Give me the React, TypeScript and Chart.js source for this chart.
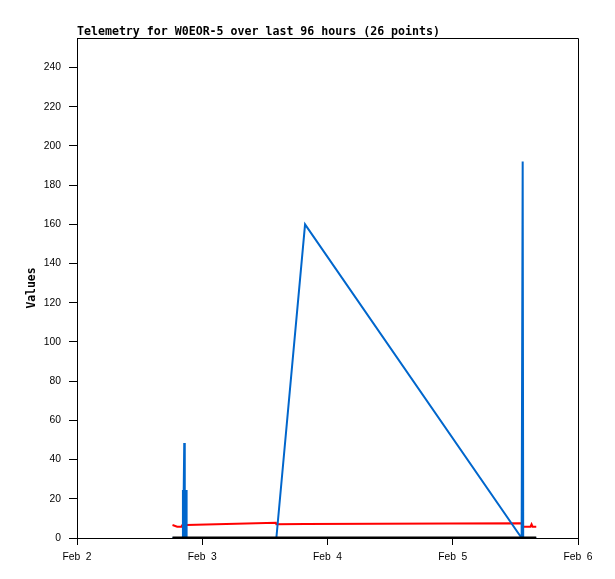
import React, { useEffect, useRef } from 'react';
import { Chart, registerables } from 'chart.js';

Chart.register(...registerables);

const TITLE = 'Telemetry for W0EOR-5 over last 96 hours (26 points)';
const Y_TITLE = 'Values';

// x tick labels (hours since Feb 2 00:00, every 24 h)
const xTickHours = [0, 24, 48, 72, 96];
const xTickLabels = ['Feb  2', 'Feb  3', 'Feb  4', 'Feb  5', 'Feb  6'];

// sample times, hours since Feb 2 00:00
const hours = [18.3, 19.2, 20.0, 20.2, 20.3, 20.35, 20.45, 20.55, 20.65, 20.75, 20.85, 20.95, 21.0, 38.1, 38.2, 43.7, 85.2, 85.4, 85.5, 86.9, 87.1, 87.3, 88.0];
const blueValues = [0, 0, 0, 0, 24.5, 0, 24.5, 48.5, 0, 24.5, 0, 24.5, 0, 0, 0, 160, 0, 192, 0, 0, 0, 0, 0];
const redValues = [6.6, 5.8, 5.8, 6.6, 6.6, 6.6, 6.6, 6.6, 6.6, 6.6, 6.6, 6.6, 6.6, 7.8, 7.0, 7.1, 7.5, 5.8, 5.8, 5.8, 7.0, 5.8, 5.8];
const blackValues = [0, 0, 0, 0, 0, 0, 0, 0, 0, 0, 0, 0, 0, 0, 0, 0, 0, 0, 0, 0, 0, 0, 0];

const toPoints = (vals: number[]) => hours.map((h, i) => ({ x: h, y: vals[i] }));

const framePlugin = {
  id: 'frame',
  afterDraw(chart: any) {
    const { ctx, chartArea } = chart;
    const { left, top, right, bottom } = chartArea;
    ctx.save();
    ctx.strokeStyle = '#000';
    ctx.lineWidth = 1;
    ctx.beginPath();
    ctx.moveTo(Math.round(left), Math.round(top) + 0.5);
    ctx.lineTo(Math.round(right) + 0.5, Math.round(top) + 0.5);
    ctx.lineTo(Math.round(right) + 0.5, Math.round(bottom));
    ctx.stroke();
    ctx.restore();
  },
};

export default function App() {
  const ref = useRef<HTMLCanvasElement | null>(null);

  useEffect(() => {
    document.body.style.margin = '0';
    const canvas = ref.current;
    if (!canvas) return;
    const tickFont = { family: '"Liberation Sans", Arial, sans-serif', size: 10.3 };
    const monoBold = { family: '"DejaVu Sans Mono", monospace', size: 11.6, weight: 'bold' as const };
    const chart = new Chart(canvas, {
      type: 'line',
      data: {
        datasets: [
          {
            label: 'black',
            data: toPoints(blackValues),
            borderColor: '#000000',
            borderWidth: 3,
            pointRadius: 0,
            order: 0,
          },
          {
            label: 'blue',
            data: toPoints(blueValues),
            borderColor: '#0066cc',
            borderWidth: 2,
            pointRadius: 0,
            order: 1,
          },
          {
            label: 'red',
            data: toPoints(redValues),
            borderColor: '#ff0000',
            borderWidth: 2,
            pointRadius: 0,
            order: 2,
          },
        ],
      },
      options: {
        animation: false,
        responsive: false,
        layout: { padding: { top: 25.5, right: 37, left: 0, bottom: 0 } },
        plugins: {
          legend: { display: false },
          tooltip: { enabled: false },
          title: {
            display: true,
            text: TITLE,
            align: 'start',
            fullSize: false,
            color: '#000',
            font: { ...monoBold, lineHeight: 1.0 },
            padding: { top: 1, bottom: 0 },
          },
        },
        scales: {
          x: {
            type: 'linear',
            min: 0,
            max: 96,
            afterBuildTicks: (scale: any) => {
              scale.ticks = xTickHours.map((v) => ({ value: v }));
            },
            afterFit: (scale: any) => {
              scale.height = 41;
            },
            ticks: {
              color: '#000',
              font: tickFont,
              padding: 6,
              maxRotation: 0,
              autoSkip: false,
              callback: (v: any) => {
                const i = xTickHours.indexOf(Number(v));
                return i >= 0 ? xTickLabels[i] : '';
              },
            },
            grid: { drawOnChartArea: false, drawTicks: true, tickLength: 7, color: '#000' },
            border: { display: true, color: '#000', width: 1 },
          },
          y: {
            type: 'linear',
            min: 0,
            max: 255,
            afterFit: (scale: any) => {
              scale.width = 77;
            },
            ticks: {
              stepSize: 20,
              includeBounds: false,
              color: '#000',
              font: tickFont,
              padding: 8,
            },
            grid: { drawOnChartArea: false, drawTicks: true, tickLength: 8, color: '#000' },
            border: { display: true, color: '#000', width: 1 },
            title: {
              display: true,
              text: Y_TITLE,
              color: '#000',
              font: { ...monoBold, size: 11.4 },
              padding: { top: 25, bottom: 0 },
            },
          },
        },
      },
      plugins: [framePlugin],
    });
    return () => chart.destroy();
  }, []);

  return (
    <div style={{ width: 615, height: 579 }}>
      <canvas ref={ref} width={615} height={579} style={{ display: 'block' }} />
    </div>
  );
}
